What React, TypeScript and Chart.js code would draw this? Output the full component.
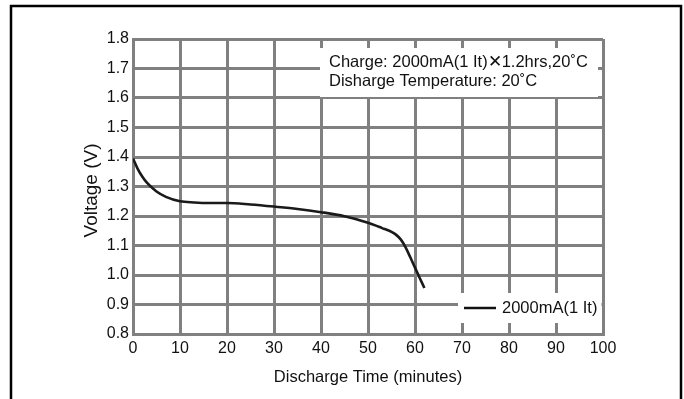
import React, { useEffect, useRef } from "react";
import { Chart, registerables } from "chart.js";

Chart.register(...registerables);

const timeMinutes = [0, 1, 2, 3, 5, 7, 10, 13, 16, 20, 25, 30, 35, 40, 45, 50, 53, 55, 56, 57, 58, 59, 60, 61, 62];
const voltage = [1.395, 1.36, 1.333, 1.312, 1.283, 1.265, 1.25, 1.246, 1.244, 1.244, 1.239, 1.232, 1.224, 1.213, 1.199, 1.177, 1.159, 1.146, 1.136, 1.12, 1.094, 1.06, 1.025, 0.99, 0.956];
const seriesLabel = "2000mA(1 It)";
const noteLines = ["Charge: 2000mA(1 It)\u27151.2hrs,20\u02DAC", "Disharge Temperature: 20\u02DAC"];
const xTitle = "Discharge Time (minutes)";
const yTitle = "Voltage (V)";

const FONT = "'Liberation Sans', Arial, sans-serif";
const GRID = "#808080";
const FS = 16;
const FT = 16.5;

const overlayPlugin = {
  id: "overlay",
  beforeDraw(chart: any) {
    const ctx = chart.ctx;
    ctx.save();
    ctx.strokeStyle = "#000";
    ctx.lineWidth = 2.5;
    ctx.strokeRect(11, 6, 670, 410);
    ctx.restore();
  },
  afterDatasetsDraw(chart: any) {
    const ctx = chart.ctx;
    const a = chart.chartArea;
    ctx.save();
    // y axis title
    ctx.save();
    ctx.translate(a.left - 41, (a.top + a.bottom) / 2 + 4);
    ctx.rotate(-Math.PI / 2);
    ctx.fillStyle = "#111";
    ctx.font = "19px " + FONT;
    ctx.textAlign = "center";
    ctx.textBaseline = "middle";
    ctx.fillText(yTitle, 0, 0);
    ctx.restore();
    // annotation box
    ctx.fillStyle = "#fff";
    ctx.fillRect(a.left + 187, a.top + 9, a.right - a.left - 187 - 5, 49);
    ctx.fillStyle = "#111";
    ctx.font = FT + "px " + FONT;
    ctx.textBaseline = "middle";
    ctx.textAlign = "left";
    ctx.fillText(noteLines[0], a.left + 196, a.top + 23);
    ctx.fillText(noteLines[1], a.left + 196, a.top + 42);
    // legend box
    ctx.fillStyle = "#fff";
    ctx.fillRect(a.left + 325, a.bottom - 41, a.right - a.left - 325 - 1.5, 30);
    ctx.strokeStyle = "#111";
    ctx.lineWidth = 2.5;
    ctx.beginPath();
    ctx.moveTo(a.left + 331, a.bottom - 26);
    ctx.lineTo(a.left + 363, a.bottom - 26);
    ctx.stroke();
    ctx.fillStyle = "#111";
    ctx.fillText(seriesLabel, a.left + 369, a.bottom - 26);
    ctx.restore();
  },
};

export default function App() {
  const ref = useRef<HTMLCanvasElement>(null);
  useEffect(() => {
    if (!ref.current) return;
    const chart = new Chart(ref.current, {
      type: "line",
      data: {
        datasets: [
          {
            label: seriesLabel,
            data: timeMinutes.map((t, i) => ({ x: t, y: voltage[i] })),
            borderColor: "#1a1a1a",
            borderWidth: 2.6,
            pointRadius: 0,
            cubicInterpolationMode: "monotone",
            fill: false,
          },
        ],
      },
      options: {
        responsive: false,
        animation: false,
        layout: { padding: { left: 78, top: 39, right: 81, bottom: 8 } },
        plugins: { legend: { display: false }, tooltip: { enabled: false } },
        scales: {
          x: {
            type: "linear",
            min: 0,
            max: 100,
            afterFit: (s: any) => { s.height = 57; },
            ticks: { stepSize: 10, color: "#111", font: { family: FONT, size: FS }, padding: 5, maxRotation: 0 },
            grid: { color: GRID, lineWidth: 3, drawTicks: false },
            border: { color: GRID, width: 3 },
            title: { display: true, text: xTitle, color: "#111", font: { family: FONT, size: FT }, padding: { top: 4, bottom: 4 } },
          },
          y: {
            min: 0.8,
            max: 1.8,
            afterFit: (s: any) => { s.width = 55; },
            ticks: { stepSize: 0.1, color: "#111", font: { family: FONT, size: FS }, padding: 4, callback: (v: any) => Number(v).toFixed(1) },
            grid: { color: GRID, lineWidth: 3, drawTicks: false },
            border: { color: GRID, width: 3 },
            title: { display: false, text: yTitle },
          },
        },
      },
      plugins: [overlayPlugin],
    } as any);
    return () => chart.destroy();
  }, []);
  return (
    <div style={{ position: "fixed", left: 0, top: 0, width: 684, height: 399, background: "#fff" }}>
      <canvas ref={ref} width={684} height={399} style={{ display: "block" }} />
    </div>
  );
}
